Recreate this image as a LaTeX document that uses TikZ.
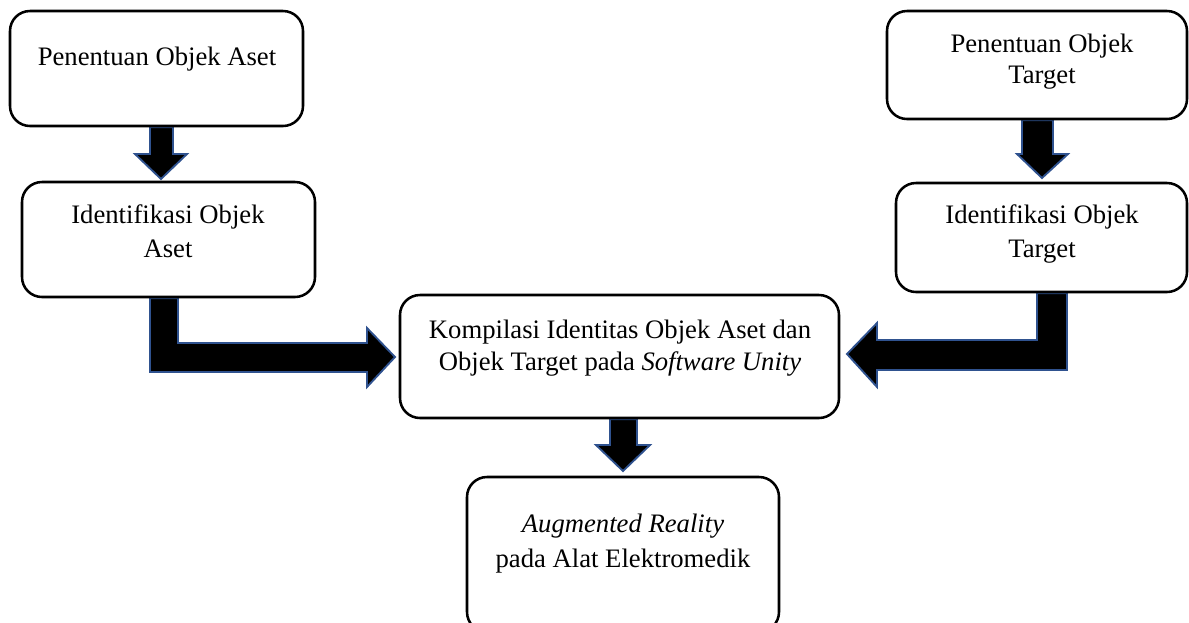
\documentclass[tikz,border=0pt]{standalone}
\usepackage{fontspec}
\setmainfont{Liberation Serif}
\usetikzlibrary{fit,backgrounds}
\definecolor{arrowblue}{RGB}{47,82,143}
\begin{document}
\begin{tikzpicture}[x=0.75pt,y=-0.75pt,
  box/.style={draw=black,line width=1.9pt,rounded corners=15pt,fill=white,inner sep=0pt},
  txt/.style={anchor=base,inner sep=0pt,font=\fontsize{20}{24}\selectfont},
  barrow/.style={fill=black,draw=arrowblue,line width=1.4pt,line join=miter}]
\useasboundingbox (0,0) rectangle (1189,622);

% boxes
\node[box,fit={(10,11) (303,126)}] (A) {};
\node[box,fit={(22,182) (315,297)}] (B) {};
\node[box,fit={(887,11) (1187,119)}] (E) {};
\node[box,fit={(896,183) (1187,292)}] (F) {};
\node[box,fit={(400,295) (839,418)}] (C) {};
\node[box,fit={(467,477) (779,632)}] (D) {};

% texts
\node[txt] (tA1) at (157,65) {Penentuan Objek Aset};
\node[txt] (tB1) at (168,223) {Identifikasi Objek};
\node[txt] (tB2) at (168,257) {Aset};
\node[txt] (tE1) at (1042,52) {Penentuan Objek};
\node[txt] (tE2) at (1042,83) {Target};
\node[txt] (tF1) at (1042,223) {Identifikasi Objek};
\node[txt] (tF2) at (1042,257) {Target};
\node[txt] (tC1) at (620,338) {Kompilasi Identitas Objek Aset dan};
\node[txt] (tC2) at (620,370) {Objek Target pada \textit{Software Unity}};
\node[txt] (tD1) at (623,532) {\textit{Augmented Reality}};
\node[txt] (tD2) at (623,567) {pada Alat Elektromedik};

% block arrows
\begin{scope}[on background layer]
\draw[barrow] (150,0 |- A.south) -- (150,154) -- (135,154) -- (161,179) -- (187,154) -- (173,154) -- (173,0 |- A.south) -- cycle;
\draw[barrow] (1022,0 |- E.south) -- (1022,154) -- (1017,154) -- (1042,178) -- (1068,154) -- (1053,154) -- (1053,0 |- E.south) -- cycle;
\draw[barrow] (610,0 |- C.south) -- (610,445) -- (596,445) -- (623,471) -- (650,445) -- (637,445) -- (637,0 |- C.south) -- cycle;
\draw[barrow] (150,0 |- B.south) -- (150,372) -- (367,372) -- (367,387) -- (395,357) -- (367,328) -- (367,343) -- (178,343) -- (178,0 |- B.south) -- cycle;
\draw[barrow] (1067,0 |- F.south) -- (1067,370) -- (877,370) -- (877,387) -- (847,354) -- (877,323) -- (877,340) -- (1037,340) -- (1037,0 |- F.south) -- cycle;
\end{scope}
\end{tikzpicture}
\end{document}
